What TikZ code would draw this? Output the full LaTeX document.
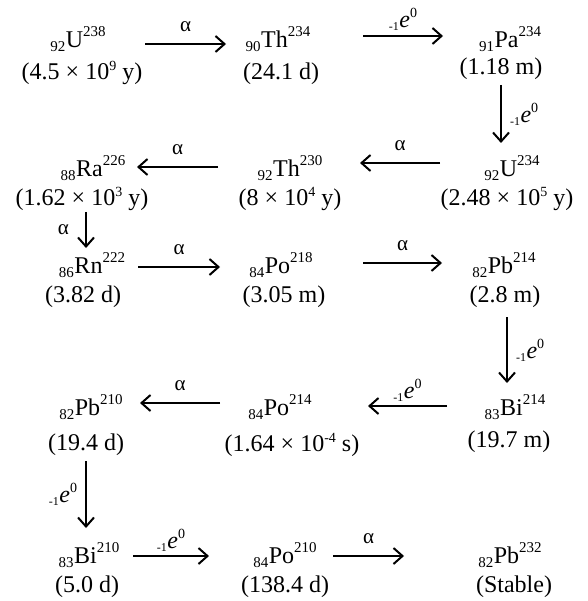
\documentclass[tikz,border=0pt]{standalone}
\usepackage{fontspec}
\setmainfont{Liberation Serif}
\usetikzlibrary{arrows.meta,calc}
\newcommand\ssz[1]{{\fontsize{15}{15}\selectfont #1}}
\newcommand\nuc[3]{\raisebox{-4pt}{\ssz{#1}}\kern0.5pt#2\raisebox{11pt}{\ssz{#3}}}
\newcommand\pw[1]{\raisebox{9pt}{\fontsize{14}{14}\selectfont #1}}
\newcommand\bem{\raisebox{-3pt}{\fontsize{12}{12}\selectfont -1}\kern0.5pt\textit{e}\raisebox{10pt}{\fontsize{14}{14}\selectfont 0}}
\tikzset{
  sym/.style={inner sep=0pt, text height=22pt, text depth=4pt, anchor=center},
  hl/.style={inner sep=0pt, anchor=base},
  arr/.style={line width=2pt, -{Straight Barb[length=9pt,width=16pt,line width=2pt]}},
  lab/.style={font=\fontsize{21}{21}\selectfont, inner sep=0pt},
  blab/.style={font=\fontsize{24}{26}\selectfont, inner sep=0pt}
}
\begin{document}
\begin{tikzpicture}[x=1pt, y=-1pt, font=\fontsize{24}{26}\selectfont]
\useasboundingbox (0,0) rectangle (587,601);
% row 1
\node[sym] (U238) at (78,39) {\nuc{92}{U}{238}};
\node[sym] (Th234) at (278,39) {\nuc{90}{Th}{234}};
\node[sym] (Pa234) at (510,39) {\nuc{91}{Pa}{234}};
\node[hl] (U238t) at (82,80) {(4.5 × 10\pw{9} y)};
\node[hl] (Th234t) at (281,80) {(24.1 d)};
\node[hl] (Pa234t) at (501,75) {(1.18 m)};
% row 2
\node[sym] (Ra226) at (93,168) {\nuc{88}{Ra}{226}};
\node[sym] (Th230) at (290,168) {\nuc{92}{Th}{230}};
\node[sym] (U234) at (512,168) {\nuc{92}{U}{234}};
\node[hl] (Ra226t) at (82,206) {(1.62 × 10\pw{3} y)};
\node[hl] (Th230t) at (290,206) {(8 × 10\pw{4} y)};
\node[hl] (U234t) at (507,206) {(2.48 × 10\pw{5} y)};
% row 3
\node[sym] (Rn222) at (92,264) {\nuc{86}{Rn}{222}};
\node[sym] (Po218) at (281,264) {\nuc{84}{Po}{218}};
\node[sym] (Pb214) at (504,264) {\nuc{82}{Pb}{214}};
\node[hl] (Rn222t) at (83,302) {(3.82 d)};
\node[hl] (Po218t) at (284,302) {(3.05 m)};
\node[hl] (Pb214t) at (505,302) {(2.8 m)};
% row 4
\node[sym] (Pb210) at (91,406) {\nuc{82}{Pb}{210}};
\node[sym] (Po214) at (280,406) {\nuc{84}{Po}{214}};
\node[sym] (Bi214) at (515,406) {\nuc{83}{Bi}{214}};
\node[hl] (Pb210t) at (86,450) {(19.4 d)};
\node[hl] (Po214t) at (292,451) {(1.64 × 10\pw{-4} s)};
\node[hl] (Bi214t) at (509,447) {(19.7 m)};
% row 5
\node[sym] (Bi210) at (89,554) {\nuc{83}{Bi}{210}};
\node[sym] (Po210) at (285,554) {\nuc{84}{Po}{210}};
\node[sym] (Pb232) at (510,554) {\nuc{82}{Pb}{232}};
\node[hl] (Bi210t) at (87,592) {(5.0 d)};
\node[hl] (Po210t) at (285,592) {(138.4 d)};
\node[hl] (Pb232t) at (514,592) {(Stable)};
% arrows
\draw[arr] ($(U238)+(67pt,-5pt)$) -- node[lab,above=11pt]{α} ($(Th234)+(-52pt,-5pt)$);
\draw[arr] ($(Th234)+(85pt,3pt)$) -- node[blab,above=4pt]{\bem} ($(Pa234)+(-67pt,3pt)$);
\draw[arr] ($(Pa234t.base)+(0pt,-10pt)$) -- node[blab,right=8pt]{\bem} ($(U234)+(-11pt,25pt)$);
\draw[arr] ($(U234)+(-72pt,5pt)$) -- node[lab,above=11pt]{α} ($(Th230)+(70pt,5pt)$);
\draw[arr] ($(Th230)+(-72pt,1pt)$) -- node[lab,above=11pt]{α} ($(Ra226)+(44pt,1pt)$);
\draw[arr] ($(Ra226t.base)+(4pt,-6pt)$) -- node[lab,left=16pt]{α} ($(Rn222)+(-6pt,16pt)$);
\draw[arr] ($(Rn222)+(46pt,-3pt)$) -- node[lab,above=11pt]{α} ($(Po218)+(-61pt,-3pt)$);
\draw[arr] ($(Po218)+(82pt,1pt)$) -- node[lab,above=11pt]{α} ($(Pb214)+(-62pt,1pt)$);
\draw[arr] ($(Pb214t.base)+(2pt,-15pt)$) -- node[blab,right=8pt]{\bem} ($(Bi214)+(-8pt,23pt)$);
\draw[arr] ($(Bi214)+(-68pt,0pt)$) -- node[blab,above=4pt]{\bem} ($(Po214)+(88pt,0pt)$);
\draw[arr] ($(Po214)+(-60pt,3pt)$) -- node[lab,above=11pt]{α} ($(Pb210)+(49pt,3pt)$);
\draw[arr] ($(Pb210t.base)+(0pt,-11pt)$) -- node[blab,left=8pt]{\bem} ($(Bi210)+(-3pt,26pt)$);
\draw[arr] ($(Bi210)+(44pt,-2pt)$) -- node[blab,above=4pt]{\bem} ($(Po210)+(-76pt,-2pt)$);
\draw[arr] ($(Po210)+(48pt,-2pt)$) -- node[lab,above=11pt]{α} ($(Pb232)+(-106pt,-2pt)$);
\end{tikzpicture}
\end{document}
